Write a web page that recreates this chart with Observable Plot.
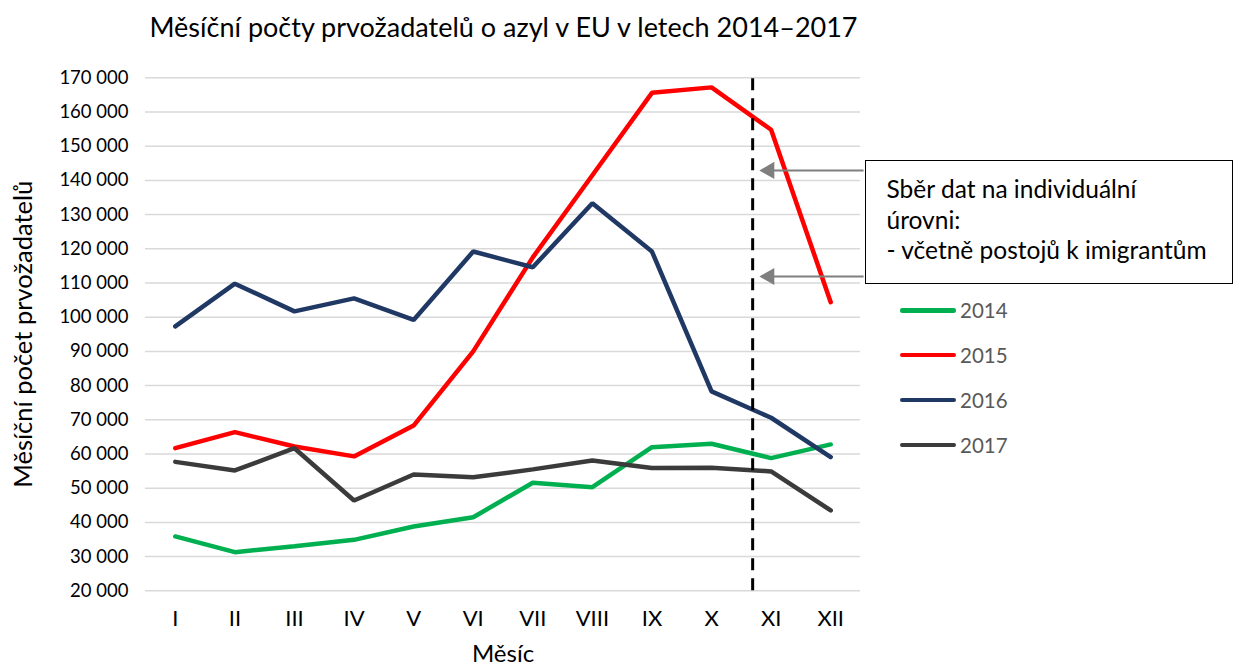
<!DOCTYPE html>
<html>
<head>
<meta charset="utf-8">
<script src="https://cdn.jsdelivr.net/npm/d3@7"></script>
<script src="https://cdn.jsdelivr.net/npm/@observablehq/plot@0.6"></script>
<style>
  html, body { margin: 0; padding: 0; background: #fff; }
  body { width: 1235px; height: 670px; position: relative; overflow: hidden; font-family: Lato, "Open Sans", sans-serif; }
  #title { position: absolute; left: 0; top: 8.6px; width: 1007px; text-align: center; font-size: 27px; color: #000; line-height: 36px; white-space: nowrap; }
  #chart { position: absolute; left: 0; top: 50px; }
  #legend { position: absolute; left: 900px; top: 288px; font-size: 20.5px; color: #595959; }
  .lg { display: flex; align-items: center; height: 44.8px; }
  .sw { width: 56px; height: 4.5px; border-radius: 2.25px; margin-right: 4px; }
  #note { position: absolute; left: 865px; top: 160px; width: 366px; height: 122px; border: 1.5px solid #000; background: #fff; box-sizing: content-box; }
  #note div { position: absolute; left: 20.5px; top: 13px; font-size: 24.5px; line-height: 30.5px; color: #000; white-space: nowrap; }
</style>
</head>
<body>
<div id="title">Měsíční počty prvožadatelů o azyl v EU v letech 2014–2017</div>
<div id="chart"></div>
<div id="legend"></div>
<div id="note"><div>Sběr dat na individuální<br>úrovni:<br>- včetně postojů k imigrantům</div></div>
<script>
// ---- data ----
const months = ["I", "II", "III", "IV", "V", "VI", "VII", "VIII", "IX", "X", "XI", "XII"];
const years = ["2014", "2015", "2016", "2017"];
const colors = ["#00b050", "#ff0000", "#203864", "#3b3b3b"];
const v2014 = [35900, 31300, 33000, 34900, 38800, 41500, 51600, 50300, 62000, 63000, 58800, 62800];
const v2015 = [61700, 66400, 62200, 59300, 68300, 90000, 117500, 141500, 165600, 167200, 154800, 104400];
const v2016 = [97300, 109800, 101700, 105500, 99200, 119200, 114600, 133300, 119200, 78300, 70600, 59100];
const v2017 = [57700, 55200, 61700, 46400, 54000, 53200, 55500, 58100, 55900, 56000, 54900, 43500];
const yTicks = [20000, 30000, 40000, 50000, 60000, 70000, 80000, 90000, 100000, 110000, 120000, 130000, 140000, 150000, 160000, 170000];
// annotation anchors (in data units)
const dividerMonth = 10.69;
const arrowValues = [142900, 111900];
const arrowStart = 12.56;
const arrowHead = 10.97;

const series = [v2014, v2015, v2016, v2017];
const data = years.flatMap((yr, i) => series[i].map((v, j) => ({year: yr, month: j + 1, value: v})));

const fmt = d => d3.format(",")(d).replace(/,/g, " ");
const font = "Lato, 'Open Sans', sans-serif";

const chart = Plot.plot({
  width: 1235,
  height: 620,
  marginTop: 27.3,
  marginBottom: 79.7,
  marginLeft: 145,
  marginRight: 375,
  style: {fontFamily: font, fontSize: "18px", color: "#000", background: "transparent"},
  x: {domain: [0.5, 12.5], label: null},
  y: {domain: [20000, 170000], label: null},
  color: {domain: years, range: colors},
  marks: [
    Plot.gridY(yTicks, {stroke: "#d9d9d9", strokeOpacity: 1, strokeWidth: 1.5}),
    Plot.axisY(yTicks, {tickSize: 0, tickPadding: 17, tickFormat: fmt, fontSize: 18.5}),
    Plot.axisX(d3.range(1, 13), {tickSize: 0, tickPadding: 20, tickFormat: d => months[d - 1], fontSize: 22}),
    Plot.text(["Měsíční počet prvožadatelů"], {frameAnchor: "left", textAnchor: "middle", rotate: -90, dx: -122, fontSize: 25.5, fill: "#000"}),
    Plot.text(["Měsíc"], {frameAnchor: "bottom", dy: 71, fontSize: 24, fill: "#000"}),
    Plot.lineY(data, {x: "month", y: "value", z: "year", stroke: "year", strokeWidth: 4.5, strokeLinejoin: "miter", strokeLinecap: "round"}),
    Plot.ruleX([dividerMonth], {y1: 20000, y2: 170000, stroke: "#000", strokeWidth: 3, strokeDasharray: "12,8"}),
    Plot.ruleY(arrowValues, {x1: arrowStart, x2: arrowHead, stroke: "#7f7f7f", strokeWidth: 2}),
    Plot.dot(arrowValues, {x: arrowHead, y: d => d, symbol: "triangle", rotate: -90, r: 6.4, fill: "#7f7f7f", stroke: "none"})
  ]
});
document.getElementById("chart").appendChild(chart);

const legend = document.getElementById("legend");
years.forEach((yr, i) => {
  const row = document.createElement("div");
  row.className = "lg";
  row.innerHTML = `<div class="sw" style="background:${colors[i]}"></div><span>${yr}</span>`;
  legend.appendChild(row);
});
</script>
</body>
</html>
